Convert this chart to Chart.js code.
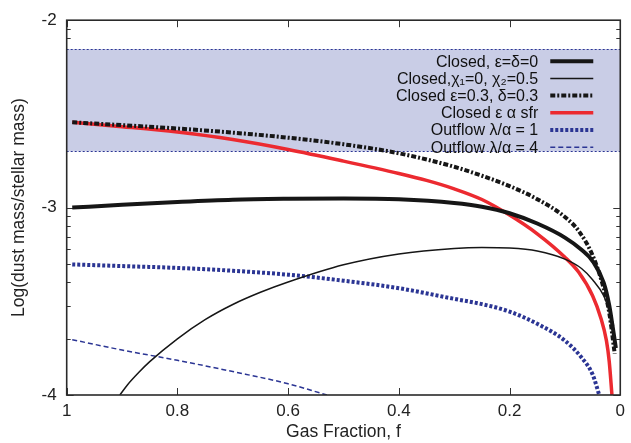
<!DOCTYPE html>
<html><head><meta charset="utf-8">
<script src="https://cdn.jsdelivr.net/npm/chart.js@4/dist/chart.umd.min.js"></script>
<style>html,body{margin:0;padding:0;background:#fff;}#wrap{width:631px;height:443px;}</style>
</head><body><div id="wrap"><canvas id="c" width="631" height="443"></canvas></div>
<script>
// ---- data ----
const xTicks = [1, 0.8, 0.6, 0.4, 0.2, 0];
const yTicks = [-2, -3, -4];
const bandRange = [-2.154, -2.70];

const closedF = [0.99,0.9,0.8,0.7,0.6,0.5,0.4,0.3,0.25,0.2,0.15,0.1,0.07,0.05,0.03,0.02,0.012,0.008];
const closedY = [-3.00,-2.985,-2.97,-2.958,-2.953,-2.951,-2.955,-2.975,-2.995,-3.03,-3.085,-3.16,-3.225,-3.285,-3.40,-3.52,-3.67,-3.75];

const chiF = [0.904,0.89,0.87,0.85,0.8,0.75,0.7,0.65,0.6,0.5,0.4,0.3,0.25,0.2,0.15,0.1,0.07,0.05,0.03,0.02,0.012];
const chiY = [-4.0,-3.945,-3.88,-3.822,-3.70,-3.598,-3.517,-3.452,-3.397,-3.305,-3.247,-3.218,-3.213,-3.216,-3.232,-3.275,-3.325,-3.385,-3.47,-3.55,-3.63];

const epsF = [0.99,0.9,0.8,0.7,0.6,0.5,0.4,0.3,0.25,0.2,0.15,0.1,0.075,0.05,0.03,0.02,0.01];
const epsY = [-2.545,-2.56,-2.578,-2.60,-2.627,-2.662,-2.71,-2.782,-2.83,-2.885,-2.955,-3.05,-3.125,-3.255,-3.43,-3.56,-3.78];

const sfrF = [0.99,0.9,0.8,0.7,0.6,0.5,0.4,0.35,0.3,0.25,0.2,0.15,0.1,0.075,0.05,0.035,0.025,0.02,0.015];
const sfrY = [-2.545,-2.568,-2.597,-2.637,-2.69,-2.752,-2.818,-2.855,-2.9,-2.957,-3.04,-3.14,-3.265,-3.345,-3.47,-3.59,-3.71,-3.82,-4.0];

const out1F = [0.99,0.9,0.8,0.7,0.6,0.5,0.4,0.3,0.25,0.2,0.15,0.1,0.07,0.05,0.038];
const out1Y = [-3.303,-3.312,-3.322,-3.337,-3.358,-3.39,-3.43,-3.487,-3.515,-3.555,-3.62,-3.71,-3.80,-3.89,-4.0];

const out4F = [0.99,0.9,0.8,0.7,0.6,0.53];
const out4Y = [-3.705,-3.76,-3.815,-3.875,-3.94,-4.0];

const seriesLabels = [
  'Closed, ε=δ=0',
  'Closed,χ₁=0, χ₂=0.5',
  'Closed ε=0.3, δ=0.3',
  'Closed ε α sfr',
  'Outflow λ/α = 1',
  'Outflow λ/α = 4'
];

// ---- styles ----
const BLACK = '#161616', RED = '#ec2a30', BLUE = '#2b3594';
const styles = [
  {color: BLACK, width: 4, dash: []},
  {color: BLACK, width: 1.5, dash: []},
  {color: BLACK, width: 4, dash: [5,2,2,2]},
  {color: RED, width: 3.5, dash: []},
  {color: BLUE, width: 4, dash: [3,2]},
  {color: BLUE, width: 1.5, dash: [5,3]}
];
const pairs = [[closedF,closedY],[chiF,chiY],[epsF,epsY],[sfrF,sfrY],[out1F,out1Y],[out4F,out4Y]];
const zip = (fs, ys) => fs.map((f, i) => ({x: f, y: ys[i]}));

const datasets = pairs.map((p, i) => ({
  label: seriesLabels[i],
  data: zip(p[0], p[1]),
  borderColor: styles[i].color,
  borderWidth: styles[i].width,
  borderDash: styles[i].dash,
  borderCapStyle: 'butt',
  pointRadius: 0,
  fill: false,
  cubicInterpolationMode: 'monotone'
}));

const FONT = 'Liberation Sans, Arial, Helvetica, sans-serif';

const decor = {
  id: 'decor',
  beforeDatasetsDraw(chart) {
    const {ctx, chartArea: a, scales: {x, y}} = chart;
    ctx.save();
    ctx.strokeStyle = '#333'; ctx.lineWidth = 1;
    const yb0 = y.getPixelForValue(bandRange[0]), yb1 = y.getPixelForValue(bandRange[1]);
    const minor = [];
    [-3, -4].forEach(e => { for (let k = 2; k <= 9; k++) minor.push(e + Math.log10(k)); });
    const tickY = (v, len) => {
      const py = Math.round(y.getPixelForValue(v)) + 0.5;
      if (py > yb0 - 1 && py < yb1 + 1) return;
      ctx.beginPath();
      ctx.moveTo(a.left, py); ctx.lineTo(a.left + len, py);
      ctx.moveTo(a.right, py); ctx.lineTo(a.right - len, py);
      ctx.stroke();
    };
    yTicks.forEach(v => tickY(v, 7));
    minor.forEach(v => tickY(v, 4));
    xTicks.forEach(v => {
      const px = Math.round(x.getPixelForValue(v)) + 0.5;
      ctx.beginPath();
      ctx.moveTo(px, a.bottom); ctx.lineTo(px, a.bottom - 7);
      ctx.moveTo(px, a.top); ctx.lineTo(px, a.top + 7);
      ctx.stroke();
    });
    ctx.fillStyle = '#c9cde6';
    ctx.fillRect(a.left, yb0, a.width, yb1 - yb0);
    ctx.strokeStyle = BLUE; ctx.lineWidth = 1; ctx.setLineDash([2, 2]);
    ctx.beginPath();
    ctx.moveTo(a.left, Math.round(yb0) + 0.5); ctx.lineTo(a.right, Math.round(yb0) + 0.5);
    ctx.moveTo(a.left, Math.round(yb1) + 0.5); ctx.lineTo(a.right, Math.round(yb1) + 0.5);
    ctx.stroke();
    ctx.restore();
  },
  afterDatasetsDraw(chart) {
    const {ctx, chartArea: a} = chart;
    ctx.save();
    ctx.strokeStyle = '#2a2a2a'; ctx.lineWidth = 1.6; ctx.setLineDash([]);
    ctx.strokeRect(a.left, a.top, a.width, a.height);
    ctx.font = '16px ' + FONT;
    ctx.textAlign = 'right'; ctx.textBaseline = 'middle';
    const textRight = a.right - 82, sx0 = a.right - 70, sx1 = a.right - 27;
    seriesLabels.forEach((lab, i) => {
      const cy = a.top + 41 + 17.2 * i;
      ctx.fillStyle = '#111';
      ctx.fillText(lab, textRight, cy + 1);
      ctx.strokeStyle = styles[i].color; ctx.lineWidth = styles[i].width;
      ctx.setLineDash(styles[i].dash); ctx.lineCap = 'butt';
      ctx.beginPath(); ctx.moveTo(sx0, cy); ctx.lineTo(sx1, cy); ctx.stroke();
    });
    ctx.restore();
  }
};

new Chart(document.getElementById('c'), {
  type: 'line',
  data: {datasets},
  options: {
    responsive: false,
    devicePixelRatio: 1,
    animation: false,
    layout: {padding: {top: 16.5, right: 9, left: 9, bottom: 0}},
    plugins: {legend: {display: false}, tooltip: {enabled: false}},
    scales: {
      x: {
        type: 'linear', reverse: true, min: 0, max: 1,
        grid: {display: false, drawTicks: false},
        border: {display: false},
        afterBuildTicks: s => { s.ticks = xTicks.map(v => ({value: v})); },
        afterFit: s => { s.height = 48; },
        ticks: {color: '#222', font: {family: FONT, size: 17}, padding: 6, maxRotation: 0,
                callback: v => String(v)},
        title: {display: true, text: 'Gas Fraction, f', color: '#222',
                font: {family: FONT, size: 17.5}, padding: {top: 0, bottom: 0}}
      },
      y: {
        type: 'linear', min: -4, max: -2,
        grid: {display: false, drawTicks: false},
        border: {display: false},
        afterBuildTicks: s => { s.ticks = yTicks.map(v => ({value: v})); },
        afterFit: s => { s.width = 57.7; },
        ticks: {color: '#222', font: {family: FONT, size: 17}, padding: 10,
                callback: v => String(v)},
        title: {display: true, text: 'Log(dust mass/stellar mass)', color: '#222',
                font: {family: FONT, size: 17.5}, padding: {top: 0, bottom: 0}}
      }
    }
  },
  plugins: [decor]
});
</script></body></html>
